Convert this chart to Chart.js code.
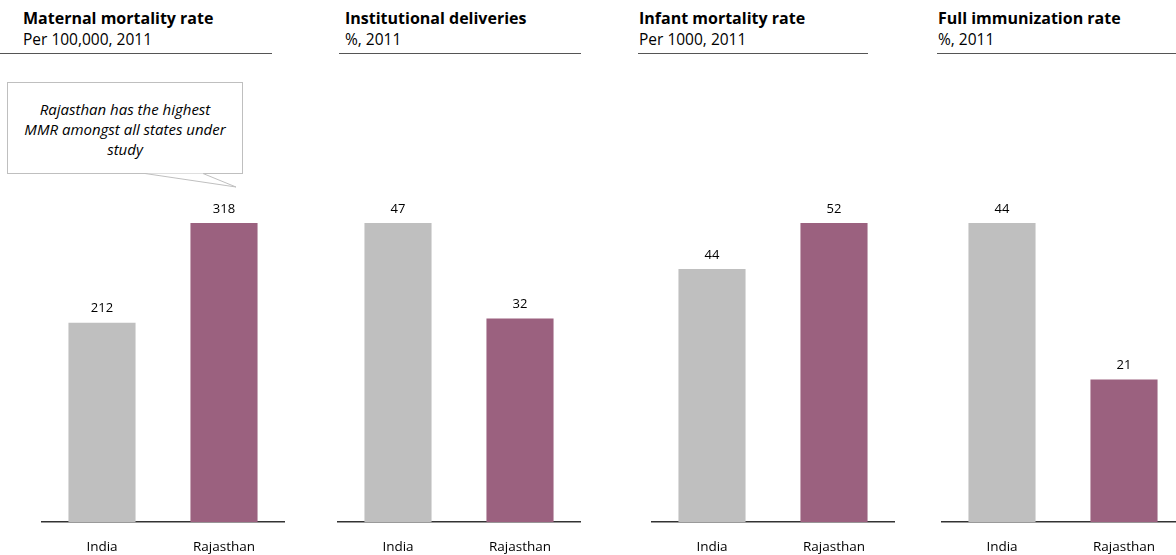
<!DOCTYPE html>
<html>
<head>
<meta charset="utf-8">
<script src="https://cdn.jsdelivr.net/npm/chart.js@4.4.0/dist/chart.umd.min.js"></script>
<style>
  html, body { margin: 0; padding: 0; background: #fff; }
  body { width: 1176px; height: 555px; position: relative; overflow: hidden; font-family: "Open Sans", "Noto Sans", sans-serif; color: #000; }
  .head { position: absolute; top: 8px; border-bottom: 1.3px solid #555; box-sizing: border-box; height: 46px; }
  .head .t { font-weight: bold; font-size: 16px; line-height: 21px; white-space: nowrap; }
  .head .s { font-size: 15.5px; line-height: 21px; white-space: nowrap; }
  .panel { position: absolute; top: 190px; width: 244px; height: 385px; }
  .callout { position: absolute; left: 7px; top: 82px; width: 236px; height: 92px; box-sizing: border-box;
             border: 1px solid #bfbfbf; background: #fff; font-style: italic; font-size: 15px; line-height: 20px;
             text-align: center; padding-top: 16px; }
  .tail { position: absolute; left: 0; top: 0; }
</style>
</head>
<body>
<script>
// Categories and values for the four indicators (2011)
const categories = ['India', 'Rajasthan'];
const panelTitles = ['Maternal mortality rate', 'Institutional deliveries', 'Infant mortality rate', 'Full immunization rate'];
const panelSubtitles = ['Per 100,000, 2011', '%, 2011', 'Per 1000, 2011', '%, 2011'];
const maternalMortality = [212, 318];
const institutionalDeliveries = [47, 32];
const infantMortality = [44, 52];
const fullImmunization = [44, 21];
const barColors = ['#bfbfbf', '#9b617f'];
const calloutText = ['Rajasthan has the highest', 'MMR amongst all states under', 'study'];

const series = [maternalMortality, institutionalDeliveries, infantMortality, fullImmunization];

// Panel geometry: heading block and plot block
const headLeft = [0, 339, 638, 937];
const headWidth = [272, 242, 230, 239];
const headPad = [23, 6, 1, 1];
const plotLeft = [41, 337, 651, 941];
const FONT = '"Open Sans", "Noto Sans", sans-serif';

// Value labels above each bar
const valueLabels = {
  id: 'valueLabels',
  afterDatasetsDraw(chart) {
    const ctx = chart.ctx;
    ctx.save();
    ctx.font = '13px ' + FONT;
    ctx.fillStyle = '#000';
    ctx.textAlign = 'center';
    ctx.textBaseline = 'middle';
    const meta = chart.getDatasetMeta(0);
    meta.data.forEach((bar, i) => {
      ctx.fillText(String(chart.data.datasets[0].data[i]), bar.x, bar.y - 14);
    });
    ctx.restore();
  }
};

series.forEach((values, p) => {
  const head = document.createElement('div');
  head.className = 'head';
  head.style.left = headLeft[p] + 'px';
  head.style.width = headWidth[p] + 'px';
  head.style.paddingLeft = headPad[p] + 'px';
  head.innerHTML = '<div class="t"></div><div class="s"></div>';
  head.querySelector('.t').textContent = panelTitles[p];
  head.querySelector('.s').textContent = panelSubtitles[p];
  document.body.appendChild(head);

  const wrap = document.createElement('div');
  wrap.className = 'panel';
  wrap.style.left = plotLeft[p] + 'px';
  const canvas = document.createElement('canvas');
  wrap.appendChild(canvas);
  document.body.appendChild(wrap);

  new Chart(canvas, {
    type: 'bar',
    data: {
      labels: categories,
      datasets: [{ data: values, backgroundColor: barColors, borderWidth: 0, barPercentage: 0.55, categoryPercentage: 1 }]
    },
    options: {
      responsive: true,
      maintainAspectRatio: false,
      animation: false,
      layout: { padding: { top: 33, bottom: 2.6, left: 0, right: 0 } },
      plugins: { legend: { display: false }, tooltip: { enabled: false } },
      scales: {
        x: {
          grid: { display: false, drawTicks: false, tickLength: 0 },
          border: { display: true, color: '#333', width: 1.5 },
          ticks: { color: '#000', padding: 17, font: { size: 13.5, family: FONT } }
        },
        y: { display: false, min: 0, max: Math.max(...values) }
      }
    },
    plugins: [valueLabels]
  });
});

// Callout box for the maternal mortality panel
const callout = document.createElement('div');
callout.className = 'callout';
callout.innerHTML = calloutText.map(() => '<div></div>').join('');
callout.querySelectorAll('div').forEach((d, i) => d.textContent = calloutText[i]);
document.body.appendChild(callout);
const svgNS = 'http://www.w3.org/2000/svg';
const svg = document.createElementNS(svgNS, 'svg');
svg.setAttribute('width', '300');
svg.setAttribute('height', '200');
svg.setAttribute('class', 'tail');
const poly = document.createElementNS(svgNS, 'polyline');
poly.setAttribute('points', '145,173.5 236,187 203,173.5');
poly.setAttribute('fill', '#fff');
poly.setAttribute('stroke', '#bfbfbf');
poly.setAttribute('stroke-width', '1');
svg.appendChild(poly);
document.body.appendChild(svg);
</script>
</body>
</html>
